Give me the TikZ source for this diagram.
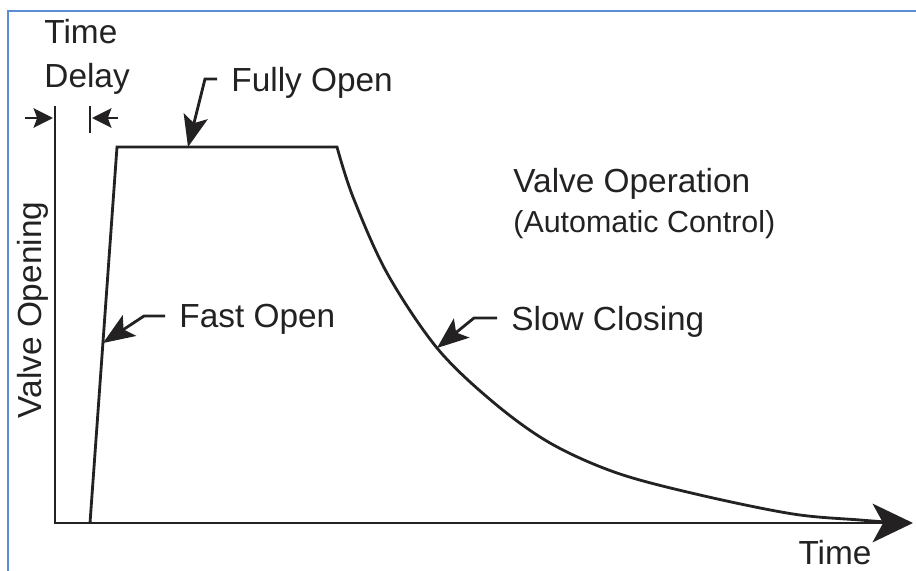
\documentclass[tikz,border=0pt]{standalone}
\usepackage{fontspec}
\setmainfont{Liberation Sans}
\usetikzlibrary{arrows.meta}
\definecolor{framebl}{RGB}{91,141,214}
\definecolor{ink}{RGB}{35,33,34}

\begin{document}
\begin{tikzpicture}[x=0.02cm,y=-0.02cm,line width=1.6pt,draw=ink,
	txt/.style={font=\fontsize{19}{22}\selectfont,text=ink,inner sep=0pt,text depth=0pt},
	lead/.style={-{Stealth[length=18pt,width=14pt,inset=4pt]}},
	dly/.style={-{Stealth[length=11pt,width=11pt,inset=2pt]}}]
	\useasboundingbox (0,0) rectangle (916,571);
	% frame
	\draw[framebl,line width=1.1pt] (8,571) -- (8,11) -- (916,11);
	% texts
	\node (tm) at (43,31) [txt,anchor=west] {Time};
	\node (dl) at (43,75) [txt,anchor=west] {Delay};
	\node (fo) at (217,79) [txt,anchor=west,inner xsep=0.26cm] {Fully Open};
	\node (fa) at (165,316) [txt,anchor=west,inner xsep=0.26cm] {Fast Open};
	\node (sc) at (497,318) [txt,anchor=west,inner xsep=0.26cm] {Slow Closing};
	\node (vo) at (512,180) [txt,anchor=west] {Valve Operation};
	\node (ac) at (512,221) [txt,anchor=west,font=\fontsize{17.3}{20}\selectfont] {(Automatic Control)};
	\node (vl) at (29,310) [txt,rotate=90] {Valve Opening};
	\node (tl) at (835,552) [txt] {Time};
	% axes
	\coordinate (o) at (55,523);
	\coordinate (yt) at (55,106);
	\coordinate (xt) at (913,523);
	\draw [-{Stealth[length=23pt,width=22pt,inset=6pt]}] (yt) -- (o) -- (xt);
	% time delay
	\coordinate (d0) at (90,106);
	\coordinate (d1) at (90,133);
	\draw (d0) -- (d1);
	\draw [dly] (25,118) -- (53,118);
	\draw [dly] (118,118) -- (92,118);
	% valve curve
	\coordinate (s0) at (90,523);
	\coordinate (s1) at (117,147);
	\coordinate (s2) at (337,147);
	\draw [line join=miter] (s0) -- (s1) -- (s2) -- plot[smooth,tension=0.55] coordinates {(337,147) (353,197) (387,273) (437,348) (493,402) (550,443) (617,473) (700,495) (793,514) (860,520) (900,523)};
	% leaders
	\coordinate (fot) at (188,147);
	\coordinate (fat) at (103,343);
	\coordinate (sct) at (437,348);
	\draw [lead] (fo.west) -- ++(-12,0) -- (fot);
	\draw [lead] (fa.west) -- ++(-21,0) -- (fat);
	\draw [lead] (sc.west) -- ++(-23,0) -- (sct);
\end{tikzpicture}
\end{document}
